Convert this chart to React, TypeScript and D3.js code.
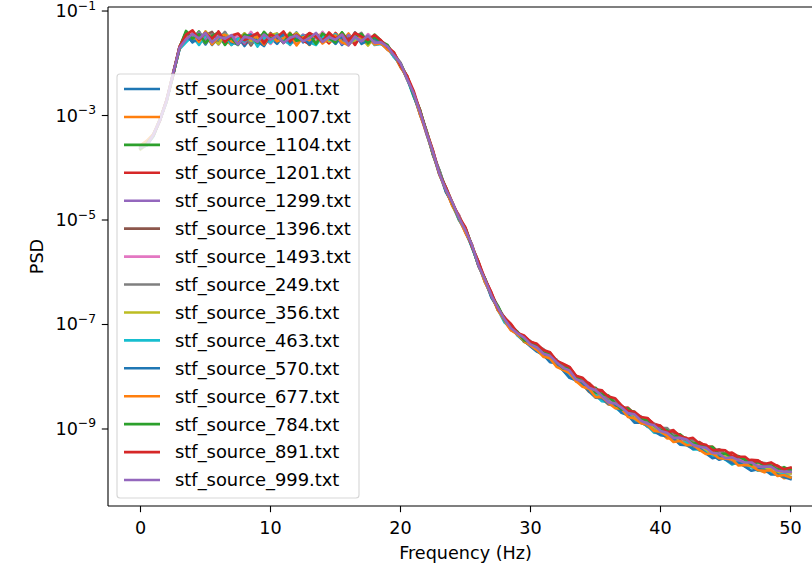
import React from "react";
import * as d3 from "d3";

// Frequency grid (Hz)
const FREQS = [
  0, 0.5, 1, 1.5, 2, 2.5, 3, 3.5, 4, 4.5, 5, 5.5, 6, 6.5, 7, 7.5, 8, 8.5, 9, 9.5,
  10, 10.5, 11, 11.5, 12, 12.5, 13, 13.5, 14, 14.5, 15, 15.5, 16, 16.5, 17, 17.5, 18, 18.5, 19, 19.5,
  20, 20.5, 21, 21.5, 22, 22.5, 23, 23.5, 24, 24.5, 25, 25.5, 26, 26.5, 27, 27.5, 28, 28.5, 29, 29.5,
  30, 30.5, 31, 31.5, 32, 32.5, 33, 33.5, 34, 34.5, 35, 35.5, 36, 36.5, 37, 37.5, 38, 38.5, 39, 39.5,
  40, 40.5, 41, 41.5, 42, 42.5, 43, 43.5, 44, 44.5, 45, 45.5, 46, 46.5, 47, 47.5, 48, 48.5, 49, 49.5, 50,
];

// Common envelope, log10(PSD)
const BASE_LOG = [
  -3.62, -3.55, -3.38, -3.08, -2.72, -2.22, -1.7, -1.5,
  -1.5, -1.51, -1.51, -1.52, -1.52, -1.52, -1.53, -1.53, -1.53, -1.53, -1.53, -1.53, -1.52, -1.52, -1.52,
  -1.53, -1.53, -1.53, -1.52, -1.52, -1.52, -1.53, -1.53, -1.53, -1.53, -1.53, -1.54, -1.54, -1.55,
  -1.6, -1.7, -1.84, -2.03, -2.27, -2.58, -2.93, -3.32, -3.72, -4.1, -4.43, -4.7, -4.95, -5.2, -5.5,
  -5.84, -6.15, -6.44, -6.7, -6.9, -7.05, -7.18, -7.28, -7.37,
  -7.45, -7.54, -7.63, -7.72, -7.82, -7.92, -8.02, -8.11, -8.2, -8.29, -8.37, -8.45, -8.53, -8.6,
  -8.68, -8.76, -8.83, -8.9, -8.96, -9.02, -9.08, -9.14, -9.19, -9.24, -9.29, -9.34, -9.39, -9.44,
  -9.48, -9.52, -9.56, -9.6, -9.63, -9.67, -9.7, -9.73, -9.76, -9.79, -9.82, -9.84,
];

const SERIES_NAMES = [
  "stf_source_001.txt", "stf_source_1007.txt", "stf_source_1104.txt", "stf_source_1201.txt",
  "stf_source_1299.txt", "stf_source_1396.txt", "stf_source_1493.txt", "stf_source_249.txt",
  "stf_source_356.txt", "stf_source_463.txt", "stf_source_570.txt", "stf_source_677.txt",
  "stf_source_784.txt", "stf_source_891.txt", "stf_source_999.txt",
];

const SERIES_COLORS = [
  "#1f77b4", "#ff7f0e", "#2ca02c", "#d62728", "#9467bd", "#8c564b", "#e377c2", "#7f7f7f",
  "#bcbd22", "#17becf", "#1f77b4", "#ff7f0e", "#2ca02c", "#d62728", "#9467bd",
];

// Per-series deviations from the envelope, in hundredths of a decade
const DEV_001 = [2,-1,3,0,-2,1,-3, 6,-10,4,-13,7,-2,11,-8,3,-14,2,9,-6,1,-11,5,-3,12,-7,2,-9,6,-1,8,-12,3,-4,7,-9,1, -3,2,-4,1,-2,3,-1,2,-3,4,-2,1,-4,2,-1,3,-2,1,-3,2,-1,4,-2,-3, -5,-2,-7,1,-4,-8,-1,-6,2,-5,-9,-3,0,-7,-4,-10,-2,-6,1,-8,-3,-5,-9,0,-4,-7,-2,-6,-11,-3,-5,-1,-8,-4,-6,-2,-9,-5,-7,-10];
const DEV_1007 = [4,6,2,-1,1,-2,0, -5,8,-11,3,-7,10,-2,-12,5,-4,9,-8,2,-10,6,-3,11,-6,0,-13,4,8,-9,3,-5,10,-7,1,-11,5, 2,-3,1,-5,3,-2,4,-1,-4,2,-3,3,-5,1,-2,4,-3,-1,2,-4,-6,1,-5,-2, -3,-8,-1,-6,-4,2,-7,-3,-9,-1,-5,-8,-2,-6,1,-9,-4,-2,-7,-5,-10,-3,0,-6,-8,-4,-2,-9,-6,-3,-11,-5,-7,-1,-8,-10,-4,-6,-12,-8];
const DEV_1104 = [-2,1,-1,2,0,-2,1, 9,-4,12,-9,1,7,-13,4,-2,10,-6,3,-10,8,-1,11,-8,2,6,-12,9,-3,5,-9,12,-5,0,8,-7,10, 3,-1,4,-2,2,-4,1,3,-2,5,-1,2,-3,4,0,-2,3,-4,5,1,-1,3,-5,2, 4,-1,6,2,-3,7,1,5,-2,8,3,-1,6,0,4,9,-2,5,2,7,-1,3,8,-4,5,1,6,-2,9,3,0,7,4,-1,8,2,5,-3,6,9];
const DEV_1201 = [1,-2,2,1,-1,3,-1, -8,11,-3,6,-11,13,-5,2,9,-10,4,-7,12,-2,7,-9,3,10,-4,-11,6,1,-8,11,-3,5,-12,9,-6,4, -2,4,1,-3,3,0,-4,2,5,-2,1,-3,4,-1,3,-5,2,4,-2,3,5,-1,6,3, 7,3,9,1,6,10,4,2,8,5,11,3,7,0,9,5,2,10,6,8,3,12,4,7,1,9,6,10,3,5,11,7,2,8,10,4,6,9,3,7];
const DEV_1299 = [0,2,-1,1,2,-1,0, 3,-7,10,-4,8,-12,5,-1,7,-9,12,-3,1,-8,9,-5,4,-11,8,0,-6,11,-2,5,-10,7,-3,9,-8,2, 1,-2,3,-1,2,-3,0,2,-1,3,-2,1,-3,2,-1,0,2,-3,1,3,-2,0,2,-1, 2,-3,4,-1,1,-5,3,0,-2,5,-4,1,3,-2,0,4,-3,2,-1,5,-2,1,-4,3,0,-2,4,-1,2,-3,1,5,-2,0,3,-4,2,-1,4,0];
const DEV_1396 = [-1,0,1,-2,1,0,-1, 7,-2,-10,5,12,-6,3,-9,1,8,-13,6,-4,10,-1,-7,11,-5,3,9,-11,2,7,-6,4,-10,12,-2,6,-8, -1,3,-2,2,-4,1,3,-1,2,-3,4,-2,1,3,-1,-3,2,1,-2,4,-1,3,-2,1, 3,-2,5,0,2,6,-3,4,1,-1,7,2,-2,5,3,0,6,-4,2,4,-1,6,1,3,-3,5,2,7,-2,1,4,0,6,-1,3,5,-2,4,2,0];
const DEV_1493 = [1,-1,0,2,-1,1,2, -3,9,-12,4,-6,11,1,-9,6,-2,13,-7,3,-11,5,8,-4,-10,2,7,-8,12,-5,0,9,-13,4,-6,10,-1, 2,-1,-3,4,-2,1,0,-4,3,2,-1,-2,4,-3,1,2,-4,0,3,-2,1,-3,2,4, -1,4,-3,2,0,-5,3,1,-2,4,-1,2,-4,3,0,5,-2,-1,3,-3,2,0,4,-2,1,-4,3,-1,2,5,-3,0,2,-2,4,1,-3,2,0,-1];
const DEV_249 = [0,1,-1,1,0,2,-2, 10,-5,2,-11,8,-3,12,-8,0,6,-10,4,9,-6,-1,11,-12,5,-3,8,2,-9,10,-4,6,-11,3,12,-7,-2, 3,-2,2,4,-1,-3,3,1,-2,4,2,-1,3,-3,0,4,-2,2,3,-1,4,0,3,5, 4,7,1,5,-1,6,3,8,0,4,6,2,9,-1,5,3,7,1,6,4,10,2,5,0,8,3,6,1,9,4,2,7,5,0,6,8,3,5,1,4];
const DEV_356 = [-3,-1,0,1,-1,0,1, -6,4,-9,12,-1,-11,7,3,-8,10,-4,1,-12,6,9,-3,-7,11,-1,4,-10,8,-5,2,11,-9,-2,6,-12,7, -2,1,3,-3,2,-1,-4,3,0,-2,2,-3,1,4,-2,0,-3,2,-1,1,-4,2,0,-2, -2,1,-4,0,-3,2,-5,-1,3,-3,0,-6,1,-2,-4,2,-1,-5,0,-3,1,-2,-6,-1,2,-4,-3,0,-5,1,-2,-4,-1,-6,0,-3,2,-2,-5,-1];
const DEV_463 = [0,-2,-1,0,-2,-1,-3, -10,2,-14,5,-7,-1,8,-12,0,-5,6,-15,3,-9,7,-4,-11,1,5,-8,-13,4,-2,9,-6,-12,2,-3,6,-10, -3,-1,-4,0,-2,-5,1,-3,-1,-4,2,-2,-5,0,-3,-1,-4,1,-2,-6,0,-3,-4,-2, -6,-3,-8,-2,-5,-9,-4,-1,-7,-5,-10,-3,-6,-8,-2,-9,-5,-4,-11,-6,-3,-8,-7,-2,-10,-5,-6,-9,-4,-7,-12,-3,-8,-6,-10,-5,-7,-9,-4,-8];
const DEV_570 = [-1,1,0,-1,1,-2,0, 4,-9,-3,10,-13,1,6,-7,-11,3,8,-5,-14,5,-2,9,-8,-1,4,-12,7,-6,2,-10,5,-4,11,-9,-2,3, -1,-4,2,-3,0,-2,-5,1,-3,-1,-4,2,-2,-4,0,-3,-1,-5,1,-2,-4,-1,-3,-5, -7,-4,-9,-2,-6,-10,-5,-3,-8,-11,-4,-7,-2,-9,-6,-12,-5,-3,-8,-10,-6,-4,-11,-7,-9,-3,-8,-12,-5,-6,-10,-4,-9,-13,-7,-5,-11,-8,-10,-12];
const DEV_677 = [5,7,3,1,-1,2,-1, -2,6,-8,11,-12,2,7,-5,-9,9,-1,4,-11,8,-6,0,10,-13,3,-4,8,-10,1,6,-7,-12,9,-3,4,-9, -2,-4,1,-3,-1,2,-5,-2,0,-4,1,-3,-2,-5,2,-1,-4,0,-3,-2,-6,-1,-4,-3, -4,-7,-2,-9,-5,-1,-6,-8,-3,-10,-2,-5,-7,-1,-9,-4,-6,-2,-8,-3,-5,-11,-4,-7,-1,-6,-9,-3,-8,-5,-2,-10,-6,-4,-9,-7,-3,-11,-6,-9];
const DEV_784 = [-1,2,1,0,-1,1,0, 12,-3,7,-10,4,11,-6,1,-12,8,3,-8,13,-2,5,-9,10,-4,-1,7,-11,9,2,-7,12,-5,4,10,-8,6, 2,5,-1,3,1,-2,4,0,3,-1,5,2,-2,4,1,-3,3,0,5,-1,2,4,-2,3, 5,0,7,2,-2,8,3,1,6,-1,4,9,2,-3,7,5,1,8,3,0,6,-2,9,4,1,7,3,10,0,5,2,8,4,-1,7,3,6,1,9,5];
const DEV_891 = [2,0,1,-1,1,0,2, 5,13,-4,9,-1,12,-7,6,10,-3,4,11,-9,7,2,13,-5,8,-2,10,3,-6,12,0,8,-4,11,5,-1,9, 4,1,5,-1,3,6,2,0,4,-2,5,3,1,6,-1,4,2,5,0,3,6,2,7,4, 8,5,10,3,7,11,4,9,6,2,10,7,12,5,3,9,6,11,4,8,2,10,7,5,12,6,9,3,8,11,5,7,10,4,9,6,12,8,5,10];
const DEV_999 = [1,-1,2,0,-1,2,0, -4,6,-2,9,-8,3,-1,7,-11,4,1,-6,8,-3,5,-9,2,6,-5,0,10,-7,3,-2,8,-12,4,-4,7,-6, 0,2,-1,3,-2,1,0,-1,2,-2,1,3,-1,0,2,-3,1,-1,2,0,-2,1,3,-1, 1,-2,3,0,-1,4,-3,2,-1,3,0,-4,2,1,-2,4,-1,0,3,-2,1,-3,2,4,-1,0,3,-2,1,-4,2,0,-1,3,-2,1,4,-1,0,2];

const SERIES_DEVS = [
  DEV_001, DEV_1007, DEV_1104, DEV_1201, DEV_1299, DEV_1396, DEV_1493, DEV_249,
  DEV_356, DEV_463, DEV_570, DEV_677, DEV_784, DEV_891, DEV_999,
];

const X_TICKS = [0, 10, 20, 30, 40, 50];
const Y_TICK_EXPONENTS = [-1, -3, -5, -7, -9];

const FONT = "'DejaVu Sans', sans-serif";

export default function App() {
  const W = 812;
  const H = 568;
  const left = 108;
  const right = 823;
  const top = 7;
  const bottom = 506;

  const x = d3.scaleLinear().domain([-2.5, 52.5]).range([left, right]);
  const y = d3
    .scaleLog()
    .domain([Math.pow(10, -10.474), Math.pow(10, -0.923)])
    .range([bottom, top]);

  const line = d3
    .line<[number, number]>()
    .x((d) => x(d[0]))
    .y((d) => y(d[1]));

  const seriesData = SERIES_DEVS.map((dev) =>
    FREQS.map((f, i) => [f, Math.pow(10, BASE_LOG[i] + (dev[i] ?? 0) / 100)] as [number, number])
  );

  const fs = 17.6;
  const legFs = 17.9;
  const lw = 2.6;
  const tickLen = 6.2;
  const spineW = 1.1;

  // legend layout
  const legX = 117;
  const legY = 74;
  const legW = 242;
  const legH = 424;
  const rowY0 = 89;
  const rowStep = 27.93;

  return (
    <svg
      width={W}
      height={H}
      style={{ position: "absolute", left: 0, top: 0, background: "#fff" }}
      fontFamily={FONT}
    >
      <defs>
        <clipPath id="plotClip">
          <rect x={left} y={top} width={right - left} height={bottom - top} />
        </clipPath>
      </defs>
      <rect x={0} y={0} width={W} height={H} fill="#fff" />

      <g clipPath="url(#plotClip)">
        {seriesData.map((d, i) => (
          <path
            key={i}
            d={line(d) ?? ""}
            fill="none"
            stroke={SERIES_COLORS[i]}
            strokeWidth={lw}
            strokeLinejoin="round"
            strokeLinecap="square"
          />
        ))}
      </g>

      {/* spines */}
      <g stroke="#000" strokeWidth={spineW} fill="none">
        <line x1={left} y1={top} x2={left} y2={bottom} />
        <line x1={left} y1={bottom} x2={W + 5} y2={bottom} />
        <line x1={left} y1={top} x2={W + 5} y2={top} />
      </g>

      {/* x ticks */}
      {X_TICKS.map((t) => (
        <g key={t}>
          <line x1={x(t)} x2={x(t)} y1={bottom} y2={bottom + tickLen} stroke="#000" strokeWidth={spineW} />
          <text x={x(t)} y={534} fontSize={fs} textAnchor="middle" fill="#000">
            {t}
          </text>
        </g>
      ))}
      <text x={(left + right) / 2} y={559} fontSize={fs} textAnchor="middle" fill="#000">
        Frequency (Hz)
      </text>

      {/* y ticks */}
      {Y_TICK_EXPONENTS.map((e) => {
        const yy = y(Math.pow(10, e));
        return (
          <g key={e}>
            <line x1={left - tickLen} x2={left} y1={yy} y2={yy} stroke="#000" strokeWidth={spineW} />
            <text x={96} y={yy + 6} fontSize={fs} textAnchor="end" fill="#000">
              10
              <tspan fontSize={fs * 0.7} dy={-7.5}>
                {"\u2212" + Math.abs(e)}
              </tspan>
            </text>
          </g>
        );
      })}
      <text
        transform={`translate(43, ${(top + bottom) / 2}) rotate(-90)`}
        fontSize={fs}
        textAnchor="middle"
        fill="#000"
      >
        PSD
      </text>

      {/* legend */}
      <g>
        <rect
          x={legX}
          y={legY}
          width={legW}
          height={legH}
          rx={3}
          ry={3}
          fill="#fff"
          fillOpacity={0.8}
          stroke="#cccccc"
          strokeOpacity={0.8}
          strokeWidth={1.1}
        />
        {SERIES_NAMES.map((name, i) => {
          const ry = rowY0 + i * rowStep;
          return (
            <g key={name}>
              <line x1={124} x2={160} y1={ry} y2={ry} stroke={SERIES_COLORS[i]} strokeWidth={lw} />
              <text x={175} y={ry + 6.4} fontSize={legFs} fill="#000">
                {name}
              </text>
            </g>
          );
        })}
      </g>
    </svg>
  );
}
